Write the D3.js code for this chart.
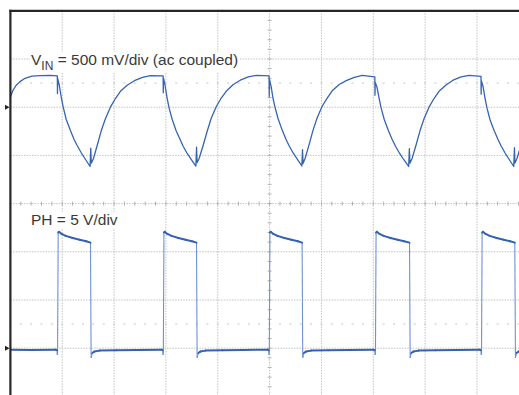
<!DOCTYPE html>
<html><head><meta charset="utf-8">
<script src="https://cdn.jsdelivr.net/npm/d3@7"></script>
<style>html,body{margin:0;padding:0;background:#fff;overflow:hidden}</style>
</head><body><svg id="c" width="519" height="395"></svg>
<script>
// Scope graticule: 10 horizontal x 8 vertical divisions
const timeDivs = [0,1,2,3,4,5,6,7,8,9,10];
const levelDivs = [-4,-3,-2,-1,0,1,2,3,4];
const markerLevels = [2.5, -2.5];        // dotted 0% / 100% marker lines
const channelGround = [2, -3];           // ground reference markers (VIN, PH)

// VIN trace (time in divisions, level in divisions)
const vinTime = [
 0, 0.05, 0.108, 0.185, 0.282, 0.417, 0.571, 0.765,
 0.905, 0.908, 0.912, 0.944, 0.982, 1.021, 1.079, 1.156, 1.233, 1.291, 1.369, 1.446, 1.537, 1.550, 1.560, 1.601, 1.678, 1.755, 1.833, 1.929, 2.026, 2.122, 2.258, 2.393, 2.548, 2.702,
 2.946, 2.949, 2.953, 2.985, 3.023, 3.062, 3.120, 3.197, 3.274, 3.332, 3.410, 3.487, 3.578, 3.591, 3.601, 3.642, 3.719, 3.796, 3.874, 3.970, 4.067, 4.163, 4.299, 4.434, 4.589, 4.743,
 4.990, 4.993, 4.997, 5.029, 5.067, 5.106, 5.164, 5.241, 5.318, 5.376, 5.454, 5.531, 5.622, 5.635, 5.645, 5.686, 5.763, 5.840, 5.918, 6.014, 6.111, 6.207, 6.343, 6.478, 6.633, 6.787,
 7.030, 7.033, 7.037, 7.070, 7.110, 7.150, 7.210, 7.289, 7.369, 7.429, 7.509, 7.589, 7.683, 7.696, 7.706, 7.747, 7.824, 7.901, 7.979, 8.075, 8.172, 8.268, 8.404, 8.539, 8.694, 8.848,
 9.078, 9.081, 9.085, 9.117, 9.155, 9.194, 9.252, 9.329, 9.406, 9.464, 9.542, 9.619, 9.710, 9.723, 9.733, 9.774, 9.851, 9.928, 10.006
];
const vinLevel = [
 2.21, 2.35, 2.45, 2.53, 2.60, 2.645, 2.655, 2.66,
 2.65, 2.28, 2.60, 2.45, 2.20, 1.99, 1.74, 1.52, 1.32, 1.20, 1.05, 0.92, 0.77, 1.15, 0.84, 0.93, 1.22, 1.52, 1.76, 2.00, 2.18, 2.33, 2.46, 2.55, 2.62, 2.655,
 2.65, 2.30, 2.61, 2.44, 2.19, 1.98, 1.75, 1.51, 1.33, 1.19, 1.04, 0.92, 0.78, 1.17, 0.85, 0.94, 1.21, 1.50, 1.77, 2.01, 2.19, 2.33, 2.47, 2.56, 2.63, 2.66,
 2.65, 2.22, 2.58, 2.43, 2.18, 1.99, 1.76, 1.53, 1.33, 1.20, 1.05, 0.93, 0.78, 1.12, 0.83, 0.94, 1.23, 1.53, 1.78, 2.02, 2.19, 2.34, 2.47, 2.55, 2.62, 2.66,
 2.63, 2.25, 2.52, 2.42, 2.20, 1.99, 1.75, 1.52, 1.32, 1.19, 1.04, 0.91, 0.77, 1.14, 0.84, 0.93, 1.21, 1.51, 1.76, 2.00, 2.18, 2.33, 2.46, 2.56, 2.63, 2.66,
 2.64, 2.27, 2.55, 2.43, 2.19, 1.98, 1.74, 1.52, 1.33, 1.20, 1.05, 0.92, 0.77, 1.16, 0.84, 0.94, 1.22, 1.52, 1.76
];

// PH trace (time in divisions, level in divisions)
const phTime = [
 0, 0.4,
 0.872, 0.898, 0.904, 0.910, 0.922, 0.937, 0.989, 1.067, 1.202, 1.337, 1.462, 1.545, 1.557, 1.579, 1.619, 1.719, 2.049, 2.449,
 2.912, 2.938, 2.944, 2.950, 2.962, 2.977, 3.029, 3.107, 3.242, 3.377, 3.502, 3.590, 3.602, 3.624, 3.664, 3.764, 4.094, 4.494,
 4.956, 4.982, 4.988, 4.994, 5.006, 5.021, 5.073, 5.151, 5.286, 5.421, 5.546, 5.627, 5.639, 5.661, 5.701, 5.801, 6.131, 6.531,
 7.004, 7.030, 7.036, 7.042, 7.054, 7.069, 7.121, 7.199, 7.334, 7.469, 7.594, 7.699, 7.711, 7.733, 7.773, 7.873, 8.203, 8.603,
 9.050, 9.076, 9.082, 9.088, 9.100, 9.115, 9.167, 9.245, 9.380, 9.515, 9.640, 9.730, 9.742, 9.764, 9.804, 9.904, 10.0
];
const phLevel = [
 -3.03, -3.035,
 -3.03, -3.04, -3.14, -3.12, -0.60, -0.585, -0.63, -0.67, -0.715, -0.75, -0.78, -0.81, -3.20, -3.10, -3.07, -3.05, -3.04, -3.035,
 -3.03, -3.04, -3.14, -3.12, -0.60, -0.585, -0.63, -0.67, -0.715, -0.75, -0.78, -0.81, -3.20, -3.10, -3.07, -3.05, -3.04, -3.035,
 -3.03, -3.04, -3.14, -3.12, -0.60, -0.585, -0.63, -0.67, -0.715, -0.75, -0.78, -0.81, -3.20, -3.10, -3.07, -3.05, -3.04, -3.035,
 -3.03, -3.04, -3.14, -3.12, -0.60, -0.585, -0.63, -0.67, -0.715, -0.75, -0.78, -0.81, -3.20, -3.10, -3.07, -3.05, -3.04, -3.035,
 -3.03, -3.04, -3.14, -3.12, -0.60, -0.585, -0.63, -0.67, -0.715, -0.75, -0.78, -0.81, -3.20, -3.10, -3.07, -3.05, -3.05
];

const svg = d3.select("#c");
const x = d3.scaleLinear().domain([0, 10]).range([10.4, 528.8]);
const y = d3.scaleLinear().domain([-4, 4]).range([396.4, 10.8]);

svg.append("defs").append("clipPath").attr("id", "clip")
  .append("rect").attr("x", x(0)).attr("y", y(4)).attr("width", x(10) - x(0)).attr("height", y(-4) - y(4));

const grid = svg.append("g").attr("clip-path", "url(#clip)");
const gridColor = "#c2c2c2";
// vertical grid
grid.selectAll(".gv").data(timeDivs.filter(d => d > 0 && d < 10)).join("line")
  .attr("x1", d => x(d)).attr("x2", d => x(d)).attr("y1", y(4)).attr("y2", y(-4))
  .attr("stroke", gridColor).attr("stroke-width", 1).attr("stroke-dasharray", "1.5,1.2");
// horizontal grid
grid.selectAll(".gh").data(levelDivs.filter(d => d > -4 && d < 4)).join("line")
  .attr("x1", x(0)).attr("x2", x(10)).attr("y1", d => y(d)).attr("y2", d => y(d))
  .attr("stroke", gridColor).attr("stroke-width", 1).attr("stroke-dasharray", "1.5,1.2");
// minor ticks on center lines
const tX = d3.range(0, 10.001, 0.2), tY = d3.range(-4, 4.001, 0.2);
grid.selectAll(".tx").data(tX).join("line")
  .attr("x1", d => x(d)).attr("x2", d => x(d)).attr("y1", y(0) - 2).attr("y2", y(0) + 2)
  .attr("stroke", "#b0b0b0").attr("stroke-width", 1);
grid.selectAll(".ty").data(tY).join("line")
  .attr("x1", x(5) - 2).attr("x2", x(5) + 2).attr("y1", d => y(d)).attr("y2", d => y(d))
  .attr("stroke", "#b0b0b0").attr("stroke-width", 1);
// dotted marker lines
markerLevels.forEach(lv => {
  grid.selectAll(null).data(tX).join("line")
    .attr("x1", d => x(d) - 1).attr("x2", d => x(d) + 1).attr("y1", y(lv)).attr("y2", y(lv))
    .attr("stroke", "#c4c4c4").attr("stroke-width", 1);
});

// labels with white backgrounds
const font = "'Liberation Sans', Arial, sans-serif";
function label(g, build) {
  const t = g.append("text").attr("font-family", font).attr("fill", "#3a3a3a").attr("font-size", 15.5);
  build(t);
  const b = t.node().getBBox();
  g.insert("rect", "text").attr("x", b.x - 1).attr("y", b.y + 1).attr("width", b.width + 2).attr("height", b.height - 1).attr("fill", "#fff");
}
const lg1 = svg.append("g");
label(lg1, t => {
  t.attr("x", 31).attr("y", 65);
  t.append("tspan").text("V");
  t.append("tspan").attr("font-size", 12).attr("dy", 4.5).text("IN");
  t.append("tspan").attr("dy", -4.5).text(" = 500 mV/div (ac coupled)");
});
const lg2 = svg.append("g");
label(lg2, t => {
  t.attr("x", 31).attr("y", 225).text("PH = 5 V/div");
});

// traces
const traces = svg.append("g").attr("clip-path", "url(#clip)");
const vinPts = vinTime.map((t, i) => [t, vinLevel[i]]);
const phPts = phTime.map((t, i) => [t, phLevel[i]]);
const line = d3.line().x(d => x(d[0])).y(d => y(d[1]));

traces.append("path").attr("d", line(vinPts)).attr("fill", "none")
  .attr("stroke", "#3564b3").attr("stroke-width", 1.3).attr("stroke-linejoin", "round");

// PH: steep edges thin and light, flat segments thicker
const segs = d3.pairs(phPts);
const isFlat = s => Math.abs(y(s[1][1]) - y(s[0][1])) < Math.abs(x(s[1][0]) - x(s[0][0])) * 1.5;
traces.selectAll(".edge").data(segs.filter(s => !isFlat(s))).join("path")
  .attr("d", s => line(s)).attr("fill", "none").attr("stroke", "#6d93d3").attr("stroke-width", 1.1);
traces.selectAll(".flat").data(segs.filter(isFlat)).join("path")
  .attr("d", s => line(s)).attr("fill", "none").attr("stroke", "#3462b2").attr("stroke-width", 2)
  .attr("stroke-linecap", "round");

// frame (left and top border)
svg.append("line").attr("x1", x(0)).attr("x2", x(0)).attr("y1", y(4) - 1.1).attr("y2", y(-4))
  .attr("stroke", "#262626").attr("stroke-width", 2.2);
svg.append("line").attr("x1", x(0) - 1.1).attr("x2", x(10)).attr("y1", y(4)).attr("y2", y(4))
  .attr("stroke", "#262626").attr("stroke-width", 2.2);

// ground markers
svg.selectAll(".gm").data(channelGround).join("path")
  .attr("d", d => `M5,${y(d) - 2.5}L5,${y(d) + 2.5}L9.5,${y(d)}Z`).attr("fill", "#222");
</script></body></html>
